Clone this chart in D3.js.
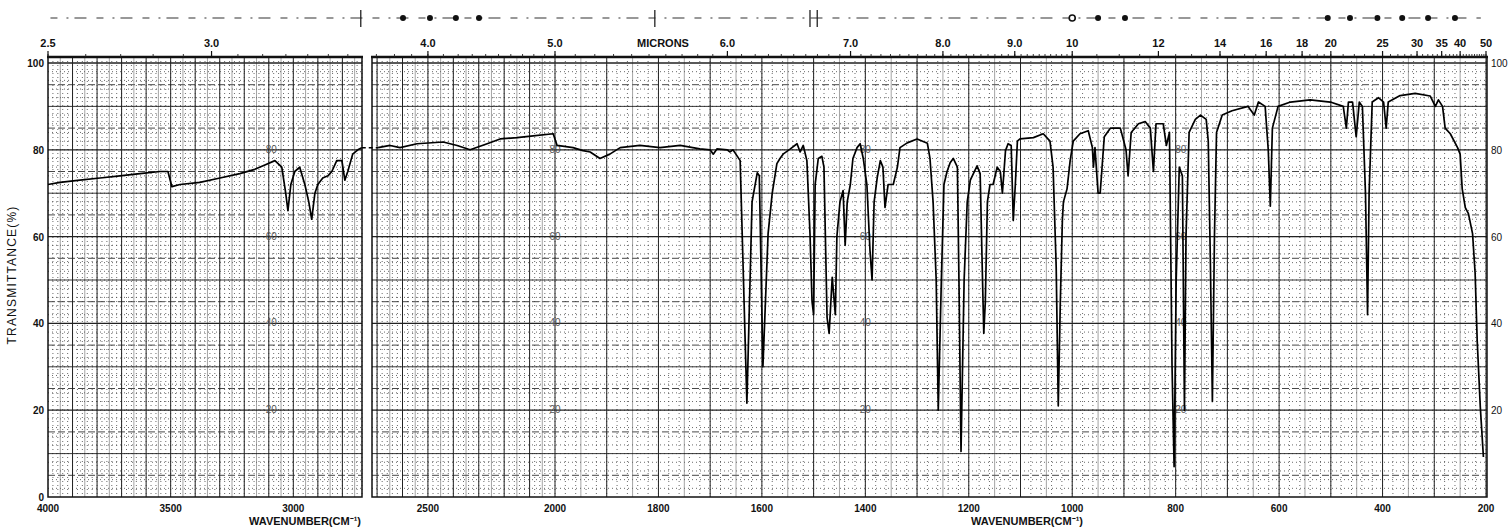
<!DOCTYPE html>
<html>
<head>
<meta charset="utf-8">
<script src="https://cdn.jsdelivr.net/npm/d3@7"></script>
<style>
  body { margin: 0; background: #fff; }
  svg text { font-family: "Liberation Sans", Arial, sans-serif; fill: #111; }
</style>
</head>
<body>
<div id="container"></div>
<script>
// spectrum, left strip (4000 - 2720 cm-1)
const leftWavenumbers = [4000, 3951, 3870, 3788, 3707, 3625, 3544, 3511, 3495, 3462, 3381, 3299, 3218, 3157, 3116, 3075,
  3047, 3031, 3022, 3010, 2994, 2974, 2953, 2937, 2925, 2912, 2900, 2880, 2859, 2843, 2823, 2802, 2790, 2778, 2758, 2737, 2721]
const leftTransmittance = [72, 72.5, 73, 73.5, 74, 74.5, 75, 75, 71.5, 72, 72.5, 73.5, 74.5, 75.5, 76.5, 77.5,
  76, 70, 66, 72, 75, 76, 72, 68, 64, 70, 72, 73.5, 74, 75, 77.5, 77.5, 73, 75, 79, 80, 80.5]

// spectrum, right strip (2720 - 200 cm-1)
const rightWavenumbers = [2696, 2649, 2610, 2543, 2440, 2385, 2334, 2267, 2216, 2149, 2086, 2007,
  1996, 1965, 1946, 1932, 1913, 1894, 1874, 1836, 1797, 1758, 1720, 1700, 1694, 1687, 1667, 1662, 1656, 1648, 1642,
  1629, 1619, 1609, 1605, 1598, 1588, 1580, 1571, 1565, 1559, 1545, 1532, 1526, 1520, 1513, 1507, 1503, 1500,
  1497, 1491, 1484, 1480, 1474, 1470, 1464, 1458, 1455, 1449, 1443, 1439, 1435, 1429, 1424, 1416, 1410, 1404,
  1397, 1391, 1387, 1383, 1377, 1371, 1366, 1362, 1356, 1346, 1338, 1333, 1319, 1300, 1280, 1275, 1269, 1263,
  1259, 1253, 1248, 1242, 1236, 1230, 1222, 1219, 1215, 1209, 1203, 1197, 1184, 1178, 1174, 1171, 1168, 1164,
  1159, 1153, 1145, 1139, 1135, 1129, 1124, 1118, 1114, 1110, 1106, 1101, 1075, 1056, 1043, 1037, 1031, 1027,
  1023, 1019, 1017, 1010, 1004, 998, 985, 969, 961, 959, 956, 950, 946, 938, 926, 907, 896, 892, 886, 872, 859,
  849, 843, 838, 824, 818, 812, 807, 803, 799, 793, 787, 783, 780, 774, 762, 752, 741, 737, 733, 729, 725, 721,
  710, 691, 660, 648, 640, 627, 621, 617, 613, 602, 578, 540, 501, 476, 470, 466, 458, 451, 445, 439, 433, 429,
  426, 420, 408, 398, 393, 389, 366, 337, 308, 298, 292, 284, 279, 269, 255, 250, 246, 240, 234, 226, 221, 217,
  211, 205]
const rightTransmittance = [80.5, 81, 80.5, 81.4, 81.8, 81, 80, 81.4, 82.5, 82.8, 83.2, 83.7,
  81, 80.5, 79.8, 79.5, 78, 79, 80.5, 81, 80.5, 81, 80.2, 80, 79, 80.2, 80, 79.5, 80, 78.6, 77.5,
  21.6, 68, 74.7, 74, 30, 60.7, 70, 76.8, 78, 79, 80.2, 81.4, 79.5, 81, 77.5, 60.7, 45, 42,
  72, 78, 78.5, 76, 41.4, 37.7, 50.6, 42, 60, 68, 70.6, 58, 68, 72, 78, 80.5, 81.4, 78,
  72, 56.8, 50, 68, 73.6, 77.5, 76, 66.7, 72, 72, 76, 80.5, 81.6, 82.5, 81.5, 78, 68, 50,
  20, 50, 72, 75, 77, 78, 76, 50, 10.5, 50, 68, 73, 76.3, 74.5, 53, 37.7, 45, 68,
  72, 72, 76, 75, 70, 79.8, 81.4, 81, 63.7, 72, 82, 82.5, 82.8, 83.7, 82, 76, 53, 21,
  45, 64, 68, 71, 77.5, 82, 83.7, 84.4, 80.5, 76, 80.5, 70, 70, 83, 85, 85, 80, 74, 84, 86, 86.5,
  85, 75, 86, 86, 81, 84, 30, 7, 50, 76, 74, 20, 60, 84, 87, 88, 87, 82, 55, 22, 60, 84,
  88, 89, 90, 88, 91, 90, 80, 67, 85, 90, 91, 91.5, 91, 90, 85, 91, 91, 83, 91, 90, 70, 42,
  70, 91, 92, 91, 85, 91, 92.5, 93, 92.4, 90, 91.5, 90, 85, 83.7, 80.5, 79, 71, 66.7, 65.3, 60.7, 51.5, 36,
  20.7, 9.2]

const wavenumberTicksLeft = [4000, 3500, 3000]
const wavenumberTicksRight = [2500, 2000, 1800, 1600, 1400, 1200, 1000, 800, 600, 400, 200]
const micronLabels = [2.5, 3, 4, 5, 6, 7, 8, 9, 10, 12, 14, 16, 18, 20, 25, 30, 35, 40, 50]
const percentTicks = [0, 20, 40, 60, 80, 100]
const gridNoteWavenumbers = [3090, 2000, 1400, 790]
const gridNoteValues = [80, 60, 40, 20]
const markerDotWavenumbers = [2598, 2492, 2390, 2299, 950, 898, 506, 463, 410, 362, 312, 260]
const markerRingWavenumbers = [1000]
const markerTickWavenumbers = [2725, 1807, 1507, 1493]

const width = 1508
const height = 528
const splitWn = 2720

const xLeft = d3.scaleLinear().domain([4000, splitWn]).range([48, 362])
const xRight = d3.scaleLinear().domain([splitWn, 2000, 200]).range([372, 555, 1486])
const y = d3.scaleLinear().domain([0, 100]).range([497, 63])
const frameTop = 57

const xOf = wn => wn > splitWn ? xLeft(wn) : xRight(wn)

const svg = d3.select('#container').append('svg')
  .attr('width', width).attr('height', height)
  .style('display', 'block')

svg.append('rect').attr('width', width).attr('height', height).attr('fill', '#fff')

const drawPanel = (x, hi, lo, rightEdge) => {
  const g = svg.append('g')
  const x0 = x(hi), x1 = rightEdge

  // dotted minor grid
  d3.range(Math.ceil(lo / 20) * 20, hi, 20).forEach(wn => {
    g.append('line').attr('x1', x(wn)).attr('x2', x(wn)).attr('y1', frameTop).attr('y2', y(0))
      .attr('stroke', '#444').attr('stroke-width', 0.8).attr('stroke-dasharray', '1,3')
  })
  d3.range(2, 100, 2).forEach(v => {
    g.append('line').attr('x1', x0).attr('x2', x1).attr('y1', y(v)).attr('y2', y(v))
      .attr('stroke', '#444').attr('stroke-width', 0.8).attr('stroke-dasharray', '1,3')
  })
  // dashed half-decade lines
  d3.range(5, 100, 10).forEach(v => {
    g.append('line').attr('x1', x0).attr('x2', x1).attr('y1', y(v)).attr('y2', y(v))
      .attr('stroke', '#333').attr('stroke-width', 0.9).attr('stroke-dasharray', '7,3')
  })
  // solid grid
  d3.range(Math.ceil(lo / 50) * 50, hi, 50).forEach(wn => {
    g.append('line').attr('x1', x(wn)).attr('x2', x(wn)).attr('y1', frameTop).attr('y2', y(0))
      .attr('stroke', wn % 100 === 0 ? '#222' : '#666').attr('stroke-width', wn % 100 === 0 ? 1 : 0.6)
  })
  d3.range(10, 101, 10).forEach(v => {
    g.append('line').attr('x1', x0).attr('x2', x1).attr('y1', y(v)).attr('y2', y(v))
      .attr('stroke', '#222').attr('stroke-width', v % 20 === 0 ? 1.3 : 0.9)
  })
  // frame
  g.append('rect').attr('x', x0).attr('y', frameTop).attr('width', x1 - x0).attr('height', y(0) - frameTop)
    .attr('fill', 'none').attr('stroke', '#111').attr('stroke-width', 1.5)
  g.append('line').attr('x1', x0 - 1).attr('x2', x1 + 1).attr('y1', frameTop).attr('y2', frameTop)
    .attr('stroke', '#111').attr('stroke-width', 2.5)
  return g
}

drawPanel(xLeft, 4000, splitWn, 362)
drawPanel(xRight, splitWn, 200, 1487)

// grid notes printed on the chart paper
gridNoteWavenumbers.forEach(wn => {
  gridNoteValues.forEach(v => {
    svg.append('text').attr('x', xOf(wn)).attr('y', y(v) + 3)
      .attr('text-anchor', 'middle').attr('font-size', 10).style('fill', '#555')
      .text(v)
  })
})

// spectrum trace
const line = d3.line().x(d => xOf(d[0])).y(d => y(d[1]))
const leftData = leftWavenumbers.map((wn, i) => [wn, leftTransmittance[i]])
const rightData = rightWavenumbers.map((wn, i) => [wn, rightTransmittance[i]])

svg.append('path').attr('d', line(leftData))
  .attr('fill', 'none').attr('stroke', '#000').attr('stroke-width', 1.7).attr('stroke-linejoin', 'round')
svg.append('path').attr('d', line(rightData))
  .attr('fill', 'none').attr('stroke', '#000').attr('stroke-width', 1.7).attr('stroke-linejoin', 'round')
svg.append('line')
  .attr('x1', xLeft(leftData[leftData.length - 1][0])).attr('y1', y(leftData[leftData.length - 1][1]))
  .attr('x2', xRight(rightData[0][0])).attr('y2', y(rightData[0][1]))
  .attr('stroke', '#000').attr('stroke-width', 1.5).attr('stroke-dasharray', '4,3')

// micron scale along the top
const micronMinor = d3.range(2.5, 10, 0.1).concat(d3.range(10, 20, 0.5), d3.range(20, 50.1, 1))
micronMinor.forEach(m => {
  const xm = xOf(10000 / m)
  svg.append('line').attr('x1', xm).attr('x2', xm).attr('y1', frameTop).attr('y2', frameTop - 3)
    .attr('stroke', '#222').attr('stroke-width', 0.9)
})
micronLabels.forEach(m => {
  const xm = xOf(10000 / m)
  svg.append('line').attr('x1', xm).attr('x2', xm).attr('y1', frameTop).attr('y2', frameTop - 6)
    .attr('stroke', '#111').attr('stroke-width', 1.2)
  svg.append('text').attr('x', xm).attr('y', 47)
    .attr('text-anchor', 'middle').attr('font-size', 11).attr('font-weight', 'bold')
    .text(m < 10 ? m.toFixed(1) : m)
})
svg.append('text').attr('x', 663).attr('y', 47)
  .attr('text-anchor', 'middle').attr('font-size', 11).attr('font-weight', 'bold')
  .text('MICRONS')

// marker row at the very top
svg.append('line').attr('x1', xLeft(3990)).attr('x2', xRight(210)).attr('y1', 18).attr('y2', 18)
  .attr('stroke', '#333').attr('stroke-width', 1.2).attr('stroke-dasharray', '7,9,2,6,12,10')
markerDotWavenumbers.forEach(wn => {
  svg.append('circle').attr('cx', xOf(wn)).attr('cy', 18).attr('r', 3).attr('fill', '#111')
})
markerRingWavenumbers.forEach(wn => {
  svg.append('circle').attr('cx', xOf(wn)).attr('cy', 18).attr('r', 3)
    .attr('fill', '#fff').attr('stroke', '#111').attr('stroke-width', 1.6)
})
markerTickWavenumbers.forEach(wn => {
  svg.append('line').attr('x1', xOf(wn)).attr('x2', xOf(wn)).attr('y1', 10).attr('y2', 27)
    .attr('stroke', '#222').attr('stroke-width', 1.3)
})

// wavenumber labels
wavenumberTicksLeft.forEach(wn => {
  svg.append('text').attr('x', xLeft(wn)).attr('y', 512)
    .attr('text-anchor', 'middle').attr('font-size', 10).attr('font-weight', 'bold')
    .text(wn)
})
wavenumberTicksRight.forEach(wn => {
  svg.append('text').attr('x', xRight(wn)).attr('y', 512)
    .attr('text-anchor', 'middle').attr('font-size', 10).attr('font-weight', 'bold')
    .text(wn)
})
svg.append('text').attr('x', 305).attr('y', 525)
  .attr('text-anchor', 'middle').attr('font-size', 11).attr('font-weight', 'bold')
  .text('WAVENUMBER(CM\u207B\u00B9)')
svg.append('text').attr('x', 1027).attr('y', 525)
  .attr('text-anchor', 'middle').attr('font-size', 11).attr('font-weight', 'bold')
  .text('WAVENUMBER(CM\u207B\u00B9)')

// transmittance labels
percentTicks.forEach(v => {
  svg.append('text').attr('x', 44).attr('y', y(v) + 4)
    .attr('text-anchor', 'end').attr('font-size', 10).attr('font-weight', 'bold')
    .text(v)
  if (v > 0) {
    svg.append('text').attr('x', 1491).attr('y', y(v) + 4)
      .attr('text-anchor', 'start').attr('font-size', 10)
      .text(v)
  }
})
svg.append('text')
  .attr('transform', `translate(16, ${y(50) - 5}) rotate(-90)`)
  .attr('text-anchor', 'middle').attr('font-size', 12).attr('letter-spacing', 1.2)
  .text('TRANSMITTANCE(%)')
</script>
</body>
</html>
